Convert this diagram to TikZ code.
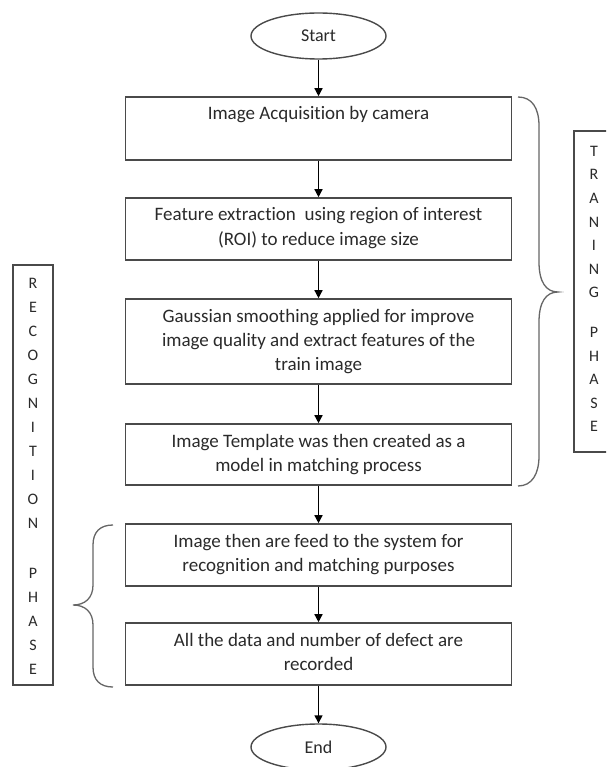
\documentclass[tikz,border=0pt]{standalone}
\usepackage{fontspec}
\setmainfont{Carlito}[Ligatures=NoCommon]
\usetikzlibrary{arrows.meta,shapes.geometric}
\definecolor{bordergray}{HTML}{4A4A4A}
\definecolor{textgray}{HTML}{2A2A2A}
\tikzset{
  stepbox/.style={draw=bordergray, line width=1.6pt, inner sep=0pt, text=textgray},
  term/.style={draw=bordergray, line width=1.4pt, ellipse, minimum width=135pt, minimum height=46pt, inner sep=0pt, text=textgray, font=\fontsize{18}{20}\selectfont},
  flow/.style={line width=1.4pt, -{Triangle[width=8pt,length=8pt]}},
  phasebox/.style={draw=bordergray, line width=1.6pt, minimum width=40pt, inner sep=0pt},
  phasetext/.style={text=textgray, align=center, inner sep=0pt},
  bracepath/.style={draw=black!60, line width=1.3pt}
}
\newcommand{\boxtext}[2]{\parbox[c][#1][t]{386pt}{\centering\fontsize{19}{24}\selectfont\rule{0pt}{23pt}#2}}
\begin{document}
\begin{tikzpicture}[x=1pt,y=-1pt]
\useasboundingbox (0,0) rectangle (606,767);
\clip (0,0) rectangle (606,767);
\fill[white] (0,0) rectangle (606,767);

\node[term] (start) at (318.5,36) {Start};
\node[stepbox] (b1) at (318.5,128.5) {\boxtext{63pt}{Image Acquisition by camera}};
\node[stepbox] (b2) at (318.5,229) {\boxtext{62pt}{Feature extraction\ \ using region of interest\\(ROI) to reduce image size}};
\node[stepbox] (b3) at (318.5,341.5) {\boxtext{85pt}{Gaussian smoothing applied for improve\\image quality and extract features of the\\train image}};
\node[stepbox] (b4) at (318.5,454.5) {\boxtext{61pt}{Image Template was then created as a\\model in matching process}};
\node[stepbox] (b5) at (318.5,555) {\boxtext{62pt}{Image then are feed to the system for\\recognition and matching purposes}};
\node[stepbox] (b6) at (318.5,654) {\boxtext{62pt}{All the data and number of defect are\\recorded}};
\node[term] (end) at (318.5,747) {End};

\draw[flow] (start) -- (b1);
\draw[flow] (b1) -- (b2);
\draw[flow] (b2) -- (b3);
\draw[flow] (b3) -- (b4);
\draw[flow] (b4) -- (b5);
\draw[flow] (b5) -- (b6);
\draw[flow] (b6) -- (end);

% training brace (right)
\draw[bracepath] (518,97) .. controls (532,97) and (539,108) .. (539,126) -- (539,262)
  .. controls (539,282) and (546,292) .. (558,292)
  .. controls (546,292) and (539,302) .. (539,322) -- (539,456)
  .. controls (539,474) and (532,486) .. (518,486);

% recognition brace (left)
\draw[bracepath] (113,525) .. controls (100,525) and (93,532) .. (93,545) -- (93,585)
  .. controls (93,598) and (85,605) .. (73,605)
  .. controls (85,605) and (93,612) .. (93,625) -- (93,667)
  .. controls (93,680) and (100,687) .. (113,687);

% phase boxes
\node[phasebox, minimum height=420pt] (recbox) at (33,475) {};
\node[phasetext, font=\fontsize{16}{24}\selectfont] (rectext) at (33,476)
  {R\\E\\C\\O\\G\\N\\I\\T\\I\\O\\N\\[26pt]P\\H\\A\\S\\E};
\node[phasebox, minimum height=321pt] (trbox) at (594,291.5) {};
\node[phasetext, font=\fontsize{16}{23.6}\selectfont] (trtext) at (594,289)
  {T\\R\\A\\N\\I\\N\\G\\[16pt]P\\H\\A\\S\\E};
\end{tikzpicture}
\end{document}
